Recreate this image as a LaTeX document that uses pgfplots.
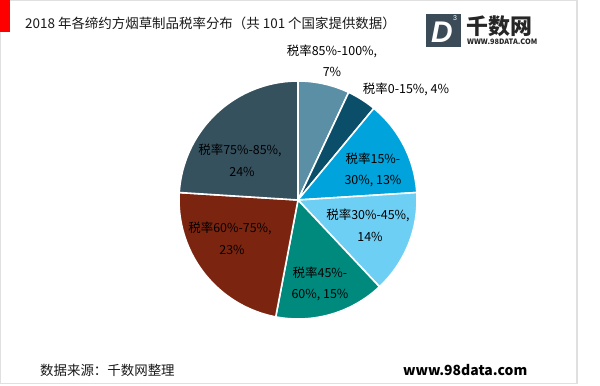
\documentclass[border=0pt]{standalone}
\usepackage{fontspec}
\setmainfont{Noto Sans CJK SC}
\newfontfamily\lat{Liberation Sans}
\usepackage{pgfplots}
\pgfplotsset{compat=1.18}
\definecolor{cA}{HTML}{5B8FA6}
\definecolor{cB}{HTML}{0B4E6A}
\definecolor{cC}{HTML}{00A3DB}
\definecolor{cD}{HTML}{6ECFF5}
\definecolor{cE}{HTML}{008A7E}
\definecolor{cF}{HTML}{7B2511}
\definecolor{cG}{HTML}{36515E}
\definecolor{logo}{HTML}{3B4B57}
\newcommand{\slice}[3]{%
  \pgfmathsetmacro\sa{90-3.6*(#1+#2)}%
  \pgfmathsetmacro\sb{90-3.6*(#1)}%
  \edef\doslice{\noexpand\addplot[fill=#3, draw=white, line width=1.6pt, line join=round, domain=\sa:\sb, samples=80] ({119*cos(x)},{119*sin(x)}) -- (axis cs:0,0) -- cycle;}%
  \doslice}
\begin{document}
\begin{tikzpicture}[x=1bp,y=1bp]
\useasboundingbox (0,0) rectangle (600,385);
\fill[white] (0,0) rectangle (600,385);
\draw[black!12, line width=1.2bp] (0.6,1.5) rectangle (577,384.4);
\fill[red] (0,385) rectangle (10,353);
\node[anchor=west, inner sep=0pt, text=black!90] at (25,362) {\fontsize{13.5}{16}\selectfont 2018 年各缔约方烟草制品税率分布（共 101 个国家提供数据）};
% logo
\fill[logo] (426,371) rectangle (461,338);
\node[text=white, inner sep=0pt] at (442,353) {\fontsize{30}{30}\selectfont\lat\bfseries\itshape D};
\node[text=white, inner sep=0pt] at (455,367) {\fontsize{7}{7}\selectfont\lat 3};
\node[anchor=west, inner sep=0pt, text=black!85] at (466,359) {\fontsize{22}{24}\selectfont\bfseries 千数网};
\node[anchor=west, inner sep=0pt, text=black!85] at (467,343) {\fontsize{7.4}{8}\selectfont\bfseries WWW.98DATA.COM};
% pie
\begin{axis}[at={(298,185)}, anchor=origin, x=1bp, y=1bp,
  xmin=-125, xmax=125, ymin=-125, ymax=125, hide axis, clip=false]
% cumulative start, value (%), colour
\slice{0}{7}{cA}   % 税率85%-100%
\slice{7}{4}{cB}   % 税率0-15%
\slice{11}{13}{cC} % 税率15%-30%
\slice{24}{14}{cD} % 税率30%-45%
\slice{38}{15}{cE} % 税率45%-60%
\slice{53}{23}{cF} % 税率60%-75%
\slice{76}{24}{cG} % 税率75%-85%
\end{axis}
\begin{scope}[every node/.style={inner sep=0pt, text=black, font=\fontsize{12.5}{14}\selectfont}]
\node at (332,334) {税率85\%-100\%,};
\node at (332,313) {7\%};
\node at (406,296) {税率0-15\%, 4\%};
\node at (373,226) {税率15\%-};
\node at (373,204) {30\%, 13\%};
\node at (368,170) {税率30\%-45\%,};
\node at (370,148) {14\%};
\node at (320,112) {税率45\%-};
\node at (320,90) {60\%, 15\%};
\node at (230,157) {税率60\%-75\%,};
\node at (232,135) {23\%};
\node at (240,235) {税率75\%-85\%,};
\node at (242,213) {24\%};
\end{scope}
\node[anchor=west, inner sep=0pt, text=black!90] at (40,15) {\fontsize{13.5}{16}\selectfont 数据来源：千数网整理};
\node[anchor=west, inner sep=0pt, text=black] at (403,15) {\fontsize{14}{16}\selectfont\bfseries www.98data.com};
\end{tikzpicture}
\end{document}
